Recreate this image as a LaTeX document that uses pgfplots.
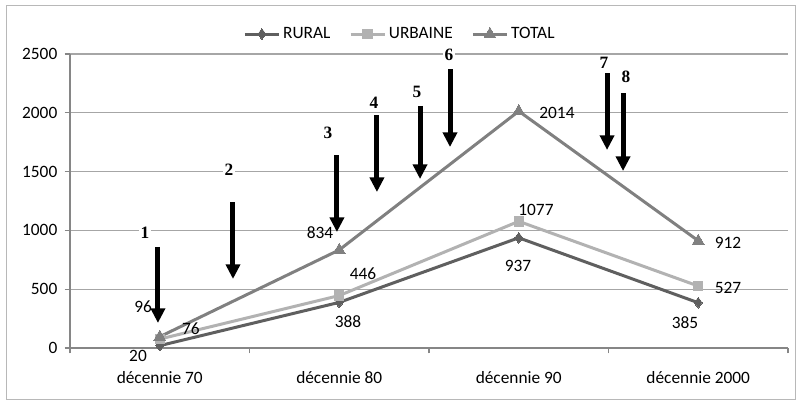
\documentclass[border=0pt]{standalone}
\usepackage{pgfplots}
\pgfplotsset{compat=1.18}
\usetikzlibrary{arrows.meta}
\usepackage{fontspec}
\setmainfont{Carlito}
\newfontfamily\tnr{Liberation Serif}
\definecolor{rural}{HTML}{5F5F5F}
\definecolor{urbaine}{HTML}{B2B2B2}
\definecolor{total}{HTML}{808080}
\definecolor{grid}{HTML}{A6A6A6}
\definecolor{axline}{HTML}{868686}
\begin{document}
\begin{tikzpicture}
% picture size = reference, 1px = 0.75pt
\path[use as bounding box] (-52.5pt,-39.75pt) rectangle (544.5pt,261pt);
\draw[color=grid!80, line width=0.6pt] (-48pt,-38.25pt) rectangle (543.75pt,257.25pt);
\begin{axis}[
    scale only axis,
    width=538.5pt, height=220.5pt,
    at={(0,0)}, anchor=south west,
    xmin=-0.5, xmax=3.5,
    ymin=0, ymax=2500,
    axis lines=left,
    axis line style={-, color=axline, line width=0.8pt},
    xtick={0,1,2,3},
    xticklabels={décennie 70, décennie 80, décennie 90, décennie 2000},
    minor xtick={-0.5,0.5,1.5,2.5,3.5},
    major x tick style={draw=none},
    minor x tick style={color=axline, line width=0.8pt},
    minor tick length=4pt,
    ytick={0,500,1000,1500,2000,2500},
    y tick style={color=axline, line width=0.8pt},
    major tick length=4pt,
    tick align=outside,
    ymajorgrids,
    grid style={color=grid, line width=0.8pt},
    tick label style={font=\fontsize{13}{15}\selectfont},
    xticklabel style={yshift=-10pt},
    yticklabel style={xshift=-2pt},
    /pgf/number format/assume math mode=true,
    /pgf/number format/1000 sep={},
    clip=false,
    legend style={at={(rel axis cs:0.46,1.068)}, anchor=center, draw=none,
        font=\fontsize{13}{15}\selectfont, legend columns=3,
        /tikz/every even column/.append style={column sep=12pt}},
    legend image code/.code={
        \draw[mark repeat=2,mark phase=2,#1] plot coordinates {(0cm,0cm) (0.45cm,0cm) (0.9cm,0cm)};},
]
\addplot[color=rural, line width=2.25pt, mark=diamond*, mark size=4pt,
    mark options={line width=0pt}] coordinates {(0,20) (1,388) (2,937) (3,385)};
\addlegendentry{RURAL}
\addplot[color=urbaine, line width=2.25pt, mark=square*, mark size=3.5pt,
    mark options={line width=0pt}] coordinates {(0,76) (1,446) (2,1077) (3,527)};
\addlegendentry{URBAINE}
\addplot[color=total, line width=2.25pt, mark=triangle*, mark size=5pt,
    mark options={line width=0pt}] coordinates {(0,96) (1,834) (2,2014) (3,912)};
\addlegendentry{TOTAL}

% data labels
\begin{scope}[every node/.style={font=\fontsize{13}{15}\selectfont, inner sep=1pt}]
\node at (axis cs:-0.121,-68) {20};
\node at (axis cs:0.174,162) {76};
\node at (axis cs:-0.093,349) {96};
\node at (axis cs:1.049,221) {388};
\node at (axis cs:1.132,629) {446};
\node at (axis cs:0.893,978) {834};
\node at (axis cs:1.996,697) {937};
\node at (axis cs:2.096,1173) {1077};
\node at (axis cs:2.213,1998) {2014};
\node at (axis cs:2.926,212) {385};
\node at (axis cs:3.166,510) {527};
\node at (axis cs:3.166,893) {912};
\end{scope}

% numbered arrows
\begin{scope}[every node/.style={font=\tnr\bfseries\fontsize{13}{15}\selectfont, fill=white, inner sep=1.5pt},
    arr/.style={line width=3.75pt, -{Triangle[width=10.5pt,length=11pt]}}]
\draw[arr] (axis cs:-0.010,859) -- (axis cs:-0.010,213);
\node at (axis cs:-0.082,978) {1};
\draw[arr] (axis cs:0.408,1241) -- (axis cs:0.408,587);
\node at (axis cs:0.386,1514) {2};
\draw[arr] (axis cs:0.987,1641) -- (axis cs:0.987,986);
\node at (axis cs:0.937,1828) {3};
\draw[arr] (axis cs:1.210,1981) -- (axis cs:1.210,1326);
\node at (axis cs:1.194,2083) {4};
\draw[arr] (axis cs:1.450,2058) -- (axis cs:1.450,1437);
\node at (axis cs:1.433,2177) {5};
\draw[arr] (axis cs:1.617,2372) -- (axis cs:1.617,1709);
\node at (axis cs:1.611,2491) {6};
\draw[arr] (axis cs:2.492,2338) -- (axis cs:2.492,1684);
\node at (axis cs:2.475,2423) {7};
\draw[arr] (axis cs:2.581,2168) -- (axis cs:2.581,1505);
\node at (axis cs:2.597,2304) {8};
\end{scope}
\end{axis}
\end{tikzpicture}
\end{document}
